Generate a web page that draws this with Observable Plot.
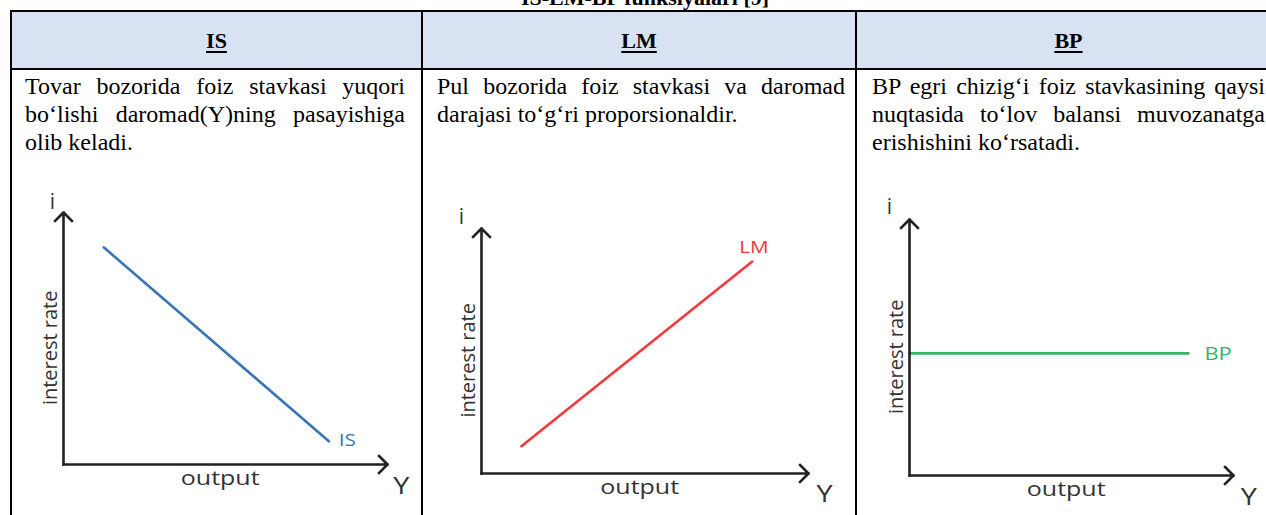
<!DOCTYPE html>
<html>
<head>
<meta charset="utf-8">
<script src="https://cdn.jsdelivr.net/npm/d3@7"></script>
<script src="https://cdn.jsdelivr.net/npm/@observablehq/plot@0.6"></script>
<style>
  html, body { margin: 0; padding: 0; background: #fff; }
  #wrap { position: relative; width: 1266px; height: 515px; overflow: hidden; background: #fff; }
  .abs { position: absolute; }
  .rule { position: absolute; background: #000; }
  .title { left: 0; width: 1290px; top: -13.4px; text-align: center;
           font: bold 22px/22px "Liberation Serif", serif; color: #000; }
  .head { top: 29.6px; text-align: center; font: bold 22px/22px "Liberation Serif", serif;
          text-decoration: underline; text-underline-offset: 3px; color: #000; }
  .desc { top: 71.9px; font: 24px/28px "Liberation Serif", serif; color: #000; }
  .desc div { text-align: justify; text-align-last: justify; }
  .desc div.last { text-align: left; text-align-last: left; }
  .chart { position: absolute; }
</style>
</head>
<body>
<div id="wrap"></div>
<script>
// ---------- data ----------
const tableTitle = "IS-LM-BP funksiyalari [9]";
const headerLabels = ["IS", "LM", "BP"];
const descriptions = [
  ["Tovar bozorida foiz stavkasi yuqori", "bo‘lishi daromad(Y)ning pasayishiga", "olib keladi."],
  ["Pul bozorida foiz stavkasi va daromad", "darajasi to‘g‘ri proporsionaldir."],
  ["BP egri chizig‘i foiz stavkasining qaysi", "nuqtasida to‘lov balansi muvozanatga", "erishishini ko‘rsatadi."]
];
const curveNames = ["IS", "LM", "BP"];
const isOutput = [1.24, 8.19];
const isRate   = [8.62, 0.92];
const lmOutput = [1.22, 8.28];
const lmRate   = [1.11, 8.65];
const bpOutput = [0, 8.61];
const bpRate   = [4.77, 4.77];
const axisExtent = [0, 10];
const xAxisTitle = "output";
const yAxisTitle = "interest rate";
const xAxisSymbol = "Y";
const yAxisSymbol = "i";

// ---------- table frame (HTML) ----------
const wrap = document.getElementById("wrap");
function el(cls, css, html) {
  const d = document.createElement("div");
  d.className = cls;
  Object.assign(d.style, css);
  if (html !== undefined) d.innerHTML = html;
  wrap.appendChild(d);
  return d;
}
el("abs", {left: "12px", top: "12px", width: "1270px", height: "56px", background: "#D9E2F3"});
el("abs title", {}, tableTitle);
el("rule", {left: "10px", top: "10px", width: "1272px", height: "2px"});
el("rule", {left: "10px", top: "68px", width: "1272px", height: "2px"});
el("rule", {left: "10px", top: "10px", width: "2px", height: "510px"});
el("rule", {left: "421px", top: "10px", width: "2px", height: "510px"});
el("rule", {left: "855px", top: "10px", width: "2px", height: "510px"});
el("rule", {left: "1280px", top: "10px", width: "2px", height: "510px"});

const cols = [[12, 421], [423, 855], [857, 1280]];
const textBoxes = [[25, 380], [437, 408], [872, 393]];
headerLabels.forEach((h, i) => {
  el("abs head", {left: cols[i][0] + "px", width: (cols[i][1] - cols[i][0]) + "px"}, h);
  const box = el("abs desc", {left: textBoxes[i][0] + "px", width: textBoxes[i][1] + "px"});
  descriptions[i].forEach((line, j) => {
    const d = document.createElement("div");
    if (j === descriptions[i].length - 1) d.className = "last";
    d.textContent = line;
    box.appendChild(d);
  });
});

// ---------- charts (Observable Plot) ----------
const sans = "'Open Sans', sans-serif";
const panels = [
  {xs: isOutput, ys: isRate, name: curveNames[0], color: "#3676b5",
   left: 12, top: 170, width: 409, height: 345, m: [42, 34, 51, 51],
   iOff: [-11, -10.7], yEndOff: [13.7, 22],
   label: {dx: 10, dy: -1, textAnchor: "start", fontSize: 16.5}},
  {xs: lmOutput, ys: lmRate, name: curveNames[1], color: "#f23a3e",
   left: 423, top: 170, width: 432, height: 345, m: [58, 47, 42, 58],
   iOff: [-20, -11.4], yEndOff: [16, 21.3],
   label: {dx: 1.6, dy: -13.6, textAnchor: "middle", fontSize: 16.5}},
  {xs: bpOutput, ys: bpRate, name: curveNames[2], color: "#35b56c",
   left: 857, top: 170, width: 409, height: 345, m: [49, 33, 40, 52],
   iOff: [-20, -12.4], yEndOff: [15.3, 22.6],
   label: {dx: 16, dy: 1.2, textAnchor: "start", fontSize: 17.5}}
];

const axisEnd = axisExtent[1];
const axisMid = (axisExtent[0] + axisExtent[1]) / 2;

panels.forEach(p => {
  const pts = p.xs.map((x, i) => ({x, y: p.ys[i]}));
  const last = pts[pts.length - 1];
  const axes = [
    {x1: axisExtent[0], y1: axisExtent[0], x2: axisEnd, y2: axisExtent[0]},
    {x1: axisExtent[0], y1: axisExtent[0], x2: axisExtent[0], y2: axisEnd}
  ];
  const svg = Plot.plot({
    width: p.width, height: p.height,
    marginTop: p.m[0], marginRight: p.m[1], marginBottom: p.m[2], marginLeft: p.m[3],
    x: {domain: axisExtent, axis: null},
    y: {domain: axisExtent, axis: null},
    style: {background: "transparent", overflow: "visible"},
    marks: [
      Plot.line(pts, {x: "x", y: "y", stroke: p.color, strokeWidth: 2.6}),
      Plot.arrow(axes, {x1: "x1", y1: "y1", x2: "x2", y2: "y2",
        stroke: "#222", strokeWidth: 2.6, headLength: 6.9, headAngle: 90,
        strokeLinecap: "square"}),
      Plot.text([p.name], {x: last.x, y: last.y, text: d => d, fill: p.color,
        fontFamily: sans, fontSize: p.label.fontSize, textAnchor: p.label.textAnchor,
        dx: p.label.dx, dy: p.label.dy}),
      Plot.text([yAxisTitle], {x: axisExtent[0], y: axisMid, text: d => d, rotate: -90,
        fill: "#333", fontFamily: sans, fontSize: 20, dx: -13, dy: 9.3}),
      Plot.text([xAxisTitle], {x: axisMid, y: axisExtent[0], text: d => d,
        fill: "#333", fontFamily: sans, fontSize: 20, dx: -5.3, dy: 13.6}),
      Plot.text([xAxisSymbol], {x: axisEnd, y: axisExtent[0], text: d => d,
        fill: "#333", fontFamily: sans, fontSize: 23, dx: p.yEndOff[0], dy: p.yEndOff[1]}),
      Plot.text([yAxisSymbol], {x: axisExtent[0], y: axisEnd, text: d => d,
        fill: "#333", fontFamily: sans, fontSize: 21, dx: p.iOff[0], dy: p.iOff[1]})
    ]
  });
  svg.classList.add("chart");
  svg.style.left = p.left + "px";
  svg.style.top = p.top + "px";
  wrap.appendChild(svg);
  // the source graphics are stretched horizontally; widen horizontal labels accordingly
  d3.select(svg).selectAll("text").each(function () {
    const t = this.textContent;
    if (t === xAxisTitle || t === p.name || t === xAxisSymbol) {
      const len = this.getComputedTextLength();
      d3.select(this).attr("textLength", len * 1.25).attr("lengthAdjust", "spacingAndGlyphs");
    }
  });
});
</script>
</body>
</html>
